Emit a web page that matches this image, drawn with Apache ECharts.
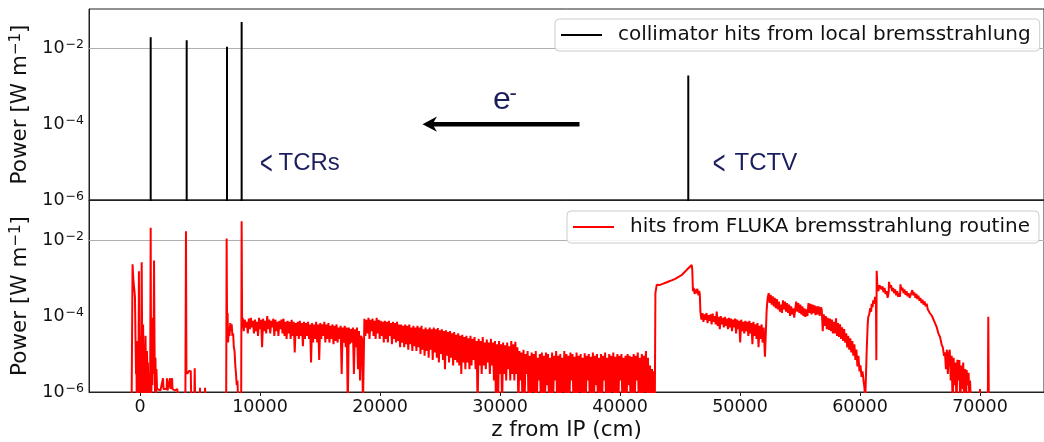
<!DOCTYPE html>
<html><head><meta charset="utf-8">
<script src="https://cdn.jsdelivr.net/npm/echarts@6/dist/echarts.min.js"></script>
<style>html,body{margin:0;padding:0;background:#fff}#c{width:1044px;height:442px}</style>
</head><body><div id="c"></div>
<script>
// ---------------- data ----------------
const seriesNames = ['collimator hits from local bremsstrahlung', 'hits from FLUKA bremsstrahlung routine'];
const xAxisTitle = 'z from IP (cm)';
const yTickExponents = [-6, -4, -2];
const yGridValues = [1e-2, 1e-4];
const floorValue = 4e-7; // below the axis floor (zero / no hits)

// collimator hits (z [cm], power [W/m])
const collimatorZ = [890, 3890, 7250, 8470, 45690];
const collimatorP = [0.019, 0.016, 0.0107, 0.048, 0.0019];

// FLUKA routine hits, segments of [z, P]
const redNearIP = [[-700,4e-7],[-620,2.3e-3],[-580,1.3e-3],[-540,8e-4],[-500,6e-4],[-460,4.5e-4],[-420,3.2e-4],[-390,6e-5],[-360,1.2e-5],[-330,3e-6],[-300,1.5e-5],[-270,4e-7],[-240,6e-6],[-200,2.2e-5],[-170,3e-6],[-140,4e-7],[-90,1.5e-3],[-60,4e-6],[-30,3e-5],[0,1e-6],[40,8e-6],[80,4e-7],[140,2.6e-3],[180,2e-5],[220,4e-7],[260,6e-5],[300,2e-6],[340,1.5e-5],[380,4e-7],[420,8e-6],[460,3e-5],[500,2e-6],[540,4e-7],[580,1.2e-5],[620,3e-6],[660,6e-6],[720,4e-7],[780,3e-6],[840,4e-7],[890,0.021],[930,4e-7],[980,5e-6],[1030,1.5e-6],[1080,9e-5],[1120,3e-6],[1170,2.9e-3],[1210,2e-5],[1250,1e-6],[1290,8e-6],[1330,4e-7],[1370,4e-6],[1420,1.2e-6],[1550,1.2e-6],[1700,1.1e-6],[1850,1.2e-6],[1920,2.3e-6],[1960,1.2e-6],[2100,1.1e-6],[2220,1.2e-6],[2250,2.3e-6],[2290,1.1e-6],[2450,1.2e-6],[2500,2.3e-6],[2540,1.2e-6],[2640,1.1e-6],[2670,2.3e-6],[2710,1.2e-6],[2900,1.1e-6],[3100,1.2e-6],[3250,1.1e-6],[3300,4e-7],[3780,4e-7],[3830,0.017],[3870,3.4e-6],[3950,3e-6],[4050,3.5e-6],[4150,3.2e-6],[4230,3.6e-6],[4280,4e-7],[4520,4e-7],[4560,4.2e-6],[4600,4e-7],[4960,4e-7],[5000,1.3e-6],[5040,4e-7],[5380,4e-7],[5420,1.3e-6],[5460,4e-7],[7180,4e-7],[7220,0.011],[7260,3e-5],[7300,1.2e-4],[7340,2e-5],[7400,5e-5],[7460,3e-5],[7520,6.5e-5],[7580,4e-5],[7640,6e-5],[7700,3e-5],[7760,3.5e-5],[7820,1.5e-5],[7880,1.2e-5],[7940,5e-6],[8000,3e-6],[8060,1.5e-6],[8120,2e-6],[8200,4e-7],[8430,4e-7],[8470,0.031],[8510,5e-5]];
const redBandA = [[8560,9e-5],[8645,4e-5],[8730,8e-5],[8815,5e-5],[8900,7e-5],[8985,3.5e-5],[9070,8.5e-5],[9155,4.5e-5],[9240,9e-5],[9325,5e-5],[9410,7.5e-5],[9495,3.5e-5],[9580,8e-5],[9665,4e-5],[9750,7e-5],[9835,3e-5],[9920,9e-5],[10005,4.5e-5],[10090,8e-5],[10175,1.5e-5],[10260,8.5e-5],[10345,4e-5],[10430,7.5e-5],[10515,3.5e-5],[10600,1e-4],[10685,4.5e-5],[10770,8e-5],[10855,3.5e-5],[10940,7.5e-5],[11025,5e-5],[11110,8.5e-5],[11195,3e-5],[11280,8e-5],[11365,4e-5],[11450,7e-5],[11535,3e-5],[11620,7.5e-5],[11705,4.5e-5],[11790,8e-5],[11875,3.5e-5],[11960,8.5e-5],[12045,3e-5],[12130,7e-5],[12215,2.5e-5],[12300,7.5e-5],[12385,3.5e-5],[12470,7e-5],[12555,2.5e-5],[12640,8e-5],[12725,3e-5],[12810,7e-5],[12895,1.1e-5],[12980,6.5e-5],[13065,3e-5],[13150,7e-5],[13235,2.5e-5],[13320,7.5e-5],[13405,3e-5],[13490,6.5e-5],[13575,1.6e-5],[13660,7e-5],[13745,2.5e-5],[13830,6.5e-5],[13915,3e-5],[14000,7e-5],[14085,2.5e-5],[14170,6e-5],[14255,6e-6],[14340,6.5e-5],[14425,2e-5],[14510,6e-5],[14595,2.5e-5],[14680,7e-5],[14765,2e-5],[14850,6e-5],[14935,7e-6],[15020,6.5e-5],[15105,2.5e-5],[15190,6e-5],[15275,3e-5],[15360,7e-5],[15445,2e-5],[15530,6e-5],[15615,2.5e-5],[15700,6.5e-5],[15785,2e-5],[15870,5.5e-5],[15955,2.5e-5],[16040,6e-5],[16125,1.8e-5],[16210,5.5e-5],[16295,2.2e-5],[16380,6e-5],[16465,2e-5],[16550,5e-5],[16635,2.5e-5],[16720,5.5e-5],[16805,3e-6],[16890,5e-5],[16975,2e-5],[17060,5.5e-5],[17145,1.5e-5],[17230,5e-5],[17315,4e-7],[17400,5e-5],[17485,1.8e-5],[17570,4.5e-5],[17655,2e-5],[17740,5e-5],[17825,3e-6],[17910,4.5e-5],[17995,1.5e-5],[18080,5e-5],[18165,4e-6],[18250,4e-5],[18335,2e-6],[18420,3e-5],[18505,2.5e-5],[18580,4e-7]];
const redBandB = [[18700,8.5e-5],[18785,3e-5],[18870,8e-5],[18955,3.5e-5],[19040,9e-5],[19125,2.5e-5],[19210,8e-5],[19295,4e-5],[19380,8.5e-5],[19465,3e-5],[19550,7.5e-5],[19635,2.5e-5],[19720,9e-5],[19805,3.5e-5],[19890,8e-5],[19975,2.5e-5],[20060,7.5e-5],[20145,3e-5],[20230,7e-5],[20315,2e-5],[20400,7.5e-5],[20485,2.5e-5],[20570,7e-5],[20655,2e-5],[20740,7.5e-5],[20825,3e-5],[20910,6.5e-5],[20995,1.8e-5],[21080,7e-5],[21165,2.5e-5],[21250,6.5e-5],[21335,2e-5],[21420,7e-5],[21505,2.2e-5],[21590,6e-5],[21675,1.5e-5],[21760,6e-5],[21845,2e-5],[21930,5.5e-5],[22015,1.5e-5],[22100,6e-5],[22185,1.8e-5],[22270,5.5e-5],[22355,1.3e-5],[22440,6e-5],[22525,1.8e-5],[22610,5e-5],[22695,1.2e-5],[22780,5.5e-5],[22865,1.6e-5],[22950,5e-5],[23035,1.2e-5],[23120,5.5e-5],[23205,1.5e-5],[23290,5e-5],[23375,1e-5],[23460,5.5e-5],[23545,1.3e-5],[23630,4.5e-5],[23715,9e-6],[23800,5e-5],[23885,1.2e-5],[23970,4.5e-5],[24055,8e-6],[24140,5e-5],[24225,1.3e-5],[24310,4.5e-5],[24395,7e-6],[24480,5e-5],[24565,1.1e-5],[24650,4.5e-5],[24735,8e-6],[24820,4.8e-5],[24905,6e-6],[24990,4.2e-5],[25075,1e-5],[25160,4.5e-5],[25245,7e-6],[25330,4e-5],[25415,4e-6],[25500,4.2e-5],[25585,9e-6],[25670,3.8e-5],[25755,6e-6],[25840,4e-5],[25925,8e-6],[26010,3.5e-5],[26095,5e-6],[26180,3.8e-5],[26265,7e-6],[26350,3.2e-5],[26435,6e-6],[26520,3.5e-5],[26605,5e-6],[26690,3e-5],[26775,3e-6],[26860,3.2e-5],[26945,6e-6],[27030,2.8e-5],[27115,4e-6],[27200,3e-5],[27285,6e-6],[27370,2.6e-5],[27455,4e-6],[27540,3e-5],[27625,5e-6],[27710,2.5e-5],[27795,7e-6],[27880,2.8e-5],[27965,4e-6],[28050,2.2e-5],[28135,4e-7],[28220,2.5e-5],[28305,5e-6],[28390,2.2e-5],[28475,3e-6],[28560,2.8e-5],[28645,5e-6],[28730,2e-5],[28815,4e-6],[28900,2.4e-5],[28985,6e-6],[29070,2e-5],[29155,3e-6],[29240,2.5e-5],[29325,5e-6],[29410,2e-5],[29495,2e-6],[29580,2.2e-5],[29665,4e-7],[29750,1.8e-5],[29835,4e-7],[29920,2.2e-5],[30005,3e-6],[30090,1.8e-5],[30175,4e-7],[30260,2e-5],[30345,3e-6],[30430,1.7e-5],[30515,2e-6],[30600,2e-5],[30685,4e-6],[30770,1.6e-5],[30855,2e-6],[30940,2.2e-5],[31025,3e-6],[31110,1.8e-5],[31195,2e-6],[31280,2.1e-5],[31365,3e-6],[31450,1.5e-5]];
const redBandC = [[31535,4e-7],[31620,1.2e-5],[31705,2e-6],[31790,1.1e-5],[31875,4e-7],[31960,1.3e-5],[32045,4e-7],[32130,1e-5],[32215,3e-6],[32300,1.2e-5],[32385,4e-7],[32470,9e-6],[32555,4e-7],[32640,1.1e-5],[32725,1e-6],[32810,1e-5],[32895,4e-7],[32980,1.2e-5],[33065,4e-7],[33150,8e-6],[33235,2e-6],[33320,1e-5],[33405,4e-7],[33490,1.1e-5],[33575,4e-7],[33660,9e-6],[33745,4e-7],[33830,1.1e-5],[33915,1.5e-6],[34000,1e-5],[34085,4e-7],[34170,8e-6],[34255,4e-7],[34340,1.1e-5],[34425,4e-7],[34510,9e-6],[34595,2e-6],[34680,1.2e-5],[34765,4e-7],[34850,9e-6],[34935,4e-7],[35020,1e-5],[35105,4e-7],[35190,8e-6],[35275,1e-6],[35360,1.2e-5],[35445,4e-7],[35530,1e-5],[35615,4e-7],[35700,9e-6],[35785,4e-7],[35870,1.1e-5],[35955,2e-6],[36040,1e-5],[36125,4e-7],[36210,8.5e-6],[36295,4e-7],[36380,1.1e-5],[36465,4e-7],[36550,9e-6],[36635,1e-6],[36720,1e-5],[36805,4e-7],[36890,8e-6],[36975,4e-7],[37060,1.05e-5],[37145,4e-7],[37230,9e-6],[37315,2e-6],[37400,1e-5],[37485,4e-7],[37570,8.5e-6],[37655,4e-7],[37740,1.1e-5],[37825,4e-7],[37910,9e-6],[37995,1.5e-6],[38080,1e-5],[38165,4e-7],[38250,8e-6],[38335,4e-7],[38420,1e-5],[38505,4e-7],[38590,9e-6],[38675,2e-6],[38760,1.1e-5],[38845,4e-7],[38930,8e-6],[39015,4e-7],[39100,1e-5],[39185,4e-7],[39270,9e-6],[39355,1e-6],[39440,1.1e-5],[39525,4e-7],[39610,8.5e-6],[39695,4e-7],[39780,1e-5],[39865,4e-7],[39950,9e-6],[40035,2e-6],[40120,1e-5],[40205,4e-7],[40290,8e-6],[40375,4e-7],[40460,9e-6],[40545,4e-7],[40630,1e-5],[40715,1.5e-6],[40800,9e-6],[40885,4e-7],[40970,8.5e-6],[41055,4e-7],[41140,1e-5],[41225,4e-7],[41310,9e-6],[41395,2e-6],[41480,1.1e-5],[41565,4e-7],[41650,8e-6],[41735,4e-7],[41820,1e-5],[41905,4e-7],[41990,9e-6],[42075,1e-6],[42160,1.2e-5],[42245,4e-7],[42330,8e-6],[42415,4e-7],[42500,5e-6],[42585,4e-7],[42670,4e-6],[42755,4e-7],[42840,3.5e-6],[42900,4e-7]];
const redRiseD = [[42950,4e-4],[43060,6.6e-4],[43300,6.5e-4],[43550,7e-4],[43800,7.5e-4],[43890,7.9e-4],[44100,8.2e-4],[44350,8.8e-4],[44600,9.5e-4],[44720,9.8e-4],[44950,1.1e-3],[45150,1.2e-3],[45280,1.3e-3],[45450,1.5e-3],[45690,1.8e-3],[45850,2e-3],[45970,2.2e-3],[46020,1.7e-3],[46080,4.5e-4],[46150,5.5e-4],[46220,3.8e-4],[46300,5e-4],[46380,4e-4],[46450,5.2e-4],[46530,3.5e-4],[46600,4.6e-4],[46650,3.8e-4],[46700,1.3e-4]];
const redBandE = [[46785,8e-5],[46870,1.2e-4],[46955,7e-5],[47040,1.1e-4],[47125,8e-5],[47210,1.2e-4],[47295,6.5e-5],[47380,1.05e-4],[47465,7.5e-5],[47550,1.1e-4],[47635,6e-5],[47720,1.15e-4],[47805,7e-5],[47890,1e-4],[47975,6e-5],[48060,1.3e-4],[48145,5.5e-5],[48230,9.5e-5],[48315,4.5e-5],[48400,1e-4],[48485,6e-5],[48570,9e-5],[48655,5e-5],[48740,9.5e-5],[48825,5.5e-5],[48910,8.5e-5],[48995,4.5e-5],[49080,9e-5],[49165,5e-5],[49250,8.5e-5],[49335,4e-5],[49420,8e-5],[49505,5e-5],[49590,8.5e-5],[49675,3.5e-5],[49760,8e-5],[49845,4.5e-5],[49930,7.5e-5],[50015,2e-5],[50100,8e-5],[50185,4e-5],[50270,7e-5],[50355,3.5e-5],[50440,7.5e-5],[50525,4e-5],[50610,7e-5],[50695,3e-5],[50780,7.5e-5],[50865,3.5e-5],[50950,6.5e-5],[51035,1.8e-5],[51120,7e-5],[51205,3e-5],[51290,6e-5],[51375,2.5e-5],[51460,6.5e-5],[51545,1.5e-5],[51630,5.5e-5],[51715,2.5e-5],[51800,6e-5],[51885,2e-5],[51970,5e-5],[52080,8.5e-6]];
const redSawF = [[52220,1.4e-4],[52305,3e-4],[52390,4e-4],[52475,2.2e-4],[52560,3.6e-4],[52645,2e-4],[52730,3.3e-4],[52815,1.8e-4],[52900,3e-4],[52985,1.6e-4],[53070,2.8e-4],[53155,1.5e-4],[53240,2.4e-4],[53325,1.3e-4],[53410,2e-4],[53495,1.2e-4],[53580,2.6e-4],[53665,1.5e-4],[53750,2.4e-4],[53835,1.3e-4],[53920,2.2e-4],[54005,1.2e-4],[54090,2e-4],[54175,1e-4],[54260,1.8e-4],[54345,1.1e-4],[54430,1.6e-4],[54515,9e-5],[54600,1.5e-4],[54685,2.4e-4],[54770,1.3e-4],[54855,2.2e-4],[54940,1.2e-4],[55025,2e-4],[55110,1.1e-4],[55195,1.8e-4],[55280,1e-4],[55365,1.6e-4],[55450,9.5e-5],[55535,1.5e-4],[55620,1e-4],[55705,2.2e-4],[55790,1.2e-4],[55875,2.1e-4],[55960,1.1e-4],[56045,2e-4],[56130,1.2e-4],[56215,1.9e-4],[56300,1.05e-4],[56385,1.8e-4],[56470,1.1e-4],[56555,1.8e-4],[56640,1e-4],[56725,1.7e-4],[56810,1.5e-4],[56895,4e-5],[56980,1.1e-4]];
const redTailG = [[57065,5.5e-5],[57150,1e-4],[57235,4.5e-5],[57320,9e-5],[57405,4.3e-5],[57490,8.5e-5],[57575,4e-5],[57660,8e-5],[57745,3.5e-5],[57830,7e-5],[57915,3.5e-5],[58000,8.7e-5],[58085,3e-5],[58170,6.5e-5],[58255,2.8e-5],[58340,6e-5],[58425,2.5e-5],[58510,5e-5],[58595,2.2e-5],[58680,4.5e-5],[58765,2e-5],[58850,3.5e-5],[58935,1.5e-5],[59020,3e-5],[59105,1.3e-5],[59190,2.6e-5],[59275,1.1e-5],[59360,2.2e-5],[59445,9e-6],[59530,1.8e-5],[59615,7e-6],[59700,1.3e-5],[59785,4.7e-6],[59870,9e-6],[59955,3.5e-6],[60040,5e-6],[60125,2.5e-6],[60210,3.5e-6],[60295,2e-6],[60380,1.2e-6],[60420,4e-7],[60480,4e-7],[60560,1.3e-5],[60640,6e-5],[60690,9.5e-5],[60770,1.1e-4],[60850,1.6e-4],[60930,1.3e-4],[60970,2.1e-4],[61050,1.7e-4],[61100,2.6e-4],[61180,2.1e-4],[61250,3.2e-4],[61330,2.8e-4],[61360,6.9e-6],[61390,1.55e-3],[61450,6e-4],[61535,4.5e-4],[61620,6.5e-4],[61705,7.2e-4],[61790,5e-4],[61875,6e-4],[61960,4.2e-4],[62045,5.5e-4],[62130,3.8e-4],[62215,4.5e-4],[62300,3e-4],[62385,4e-4],[62420,7.9e-4],[62505,5.5e-4],[62590,6.5e-4],[62675,4.5e-4],[62760,5.5e-4],[62845,4e-4],[62930,5e-4],[63015,3.5e-4],[63100,4.5e-4],[63185,3.2e-4],[63270,4e-4],[63335,3.2e-4],[63370,6.8e-4],[63455,4.8e-4],[63540,5.6e-4],[63625,4e-4],[63710,5e-4],[63795,3.6e-4],[63880,4.5e-4],[63965,3.3e-4],[64050,4e-4],[64135,3e-4],[64220,3.6e-4],[64305,3.2e-4],[64360,4.8e-4],[64445,3.5e-4],[64530,4.2e-4],[64615,3e-4],[64700,3.8e-4],[64785,2.8e-4],[64870,3.4e-4],[64955,2.5e-4],[65040,3e-4],[65125,2.2e-4],[65210,2.7e-4],[65295,2e-4],[65380,2.4e-4],[65465,1.8e-4],[65560,2.1e-4],[65645,1.5e-4],[65730,1.6e-4],[65815,1.2e-4],[65900,1.3e-4],[66000,1e-4],[66110,9.5e-5],[66250,6.5e-5],[66400,5e-5],[66530,3.5e-5],[66670,2.8e-5],[66800,1.8e-5],[66900,1.5e-5],[67000,9e-6],[67080,1.1e-5],[67160,4e-6],[67240,1.3e-5],[67320,3e-6],[67400,1e-5],[67480,1.3e-5],[67560,2e-6],[67640,9e-6],[67720,4e-7],[67800,8e-6],[67880,1.5e-6],[67960,6e-6],[68040,4e-7],[68120,7e-6],[68200,2e-6],[68280,6.9e-6],[68360,4e-7],[68440,5e-6],[68520,1.2e-6],[68600,6e-6],[68680,4e-7],[68760,4e-6],[68840,4e-7],[68890,3.8e-6],[68970,1.5e-6],[69050,3.2e-6],[69130,4e-7],[69170,2e-6],[69250,4e-7],[69950,4e-7],[70000,1.2e-6],[70050,4e-7],[70650,4e-7],[70690,9.5e-5],[70740,4e-7]];

// ------------- build series data -------------
const collimatorData = [];
collimatorZ.forEach((z, i) => { collimatorData.push([z, floorValue], [z, collimatorP[i]], [z, floorValue]); });
const flukaData = [].concat(redNearIP, redBandA, redBandB, redBandC, redRiseD, redBandE, redSawF, redTailG);

function logLabel(v) {
  const e = Math.log10(v), r = Math.round(e);
  if (Math.abs(e - r) > 1e-6 || yTickExponents.indexOf(r) < 0) return '';
  return '{b|10}{s|' + String(r).replace('-', '\u2212') + '}';
}

const FONT = '"DejaVu Sans", sans-serif';
const NAVY = '#1b1e5c';
const gridLineMark = {
  silent: true, z: 1, symbol: ['none', 'none'], label: { show: false },
  lineStyle: { color: '#b0b0b0', width: 1, type: 'solid' },
  emphasis: { disabled: true },
  data: yGridValues.map(v => ({ yAxis: v }))
};

function yAxisDef(gi, max) {
  return {
    type: 'log', logBase: 10, gridIndex: gi, min: 1e-6, max: max,
    axisLine: { show: true, onZero: false, lineStyle: { color: '#222', width: 1 } },
    axisTick: { show: false }, splitLine: { show: false }, minorTick: { show: false },
    axisLabel: {
      formatter: logLabel, margin: 5, color: '#111', showMaxLabel: false,
      rich: { b: { fontSize: 17.5, fontFamily: FONT, color: '#111' },
              s: { fontSize: 12.5, fontFamily: FONT, color: '#111', verticalAlign: 'top', padding: [0, 0, 6, 1] } }
    },
    name: '{a|Power [W m}{s|\u22121}{a|]}', nameLocation: 'middle', nameGap: 49, nameRotate: 90,
    nameTextStyle: { rich: { a: { fontSize: 21.5, fontFamily: FONT, color: '#111' },
                             s: { fontSize: 15, fontFamily: FONT, color: '#111', verticalAlign: 'top', padding: [0, 0, 8, 0] } } }
  };
}
function xAxisDef(gi, showLabels) {
  return {
    type: 'value', gridIndex: gi, min: -4250, max: 75333, splitNumber: 8,
    axisLine: { show: true, onZero: false, lineStyle: { color: '#222', width: 1 } },
    axisTick: { show: showLabels, length: 4, lineStyle: { color: '#222' } },
    splitLine: { show: false },
    axisLabel: { show: showLabels, showMinLabel: false, showMaxLabel: false, fontSize: 17.5, fontFamily: FONT, color: '#111', margin: 6,
                 formatter: v => String(v) },
    name: showLabels ? xAxisTitle : '', nameLocation: 'middle', nameGap: 27,
    nameTextStyle: { fontSize: 21.5, fontFamily: FONT, color: '#111' }
  };
}
function legendDef(name, left, top) {
  return {
    data: [{ name: name, icon: 'rect' }], left: left, top: top, orient: 'horizontal',
    padding: [6, 9, 6, 6], itemWidth: 41, itemHeight: 2,
    backgroundColor: 'rgba(255,255,255,0.85)', borderColor: '#cccccc', borderWidth: 1, borderRadius: 4,
    textStyle: { fontSize: 20, fontFamily: FONT, color: '#111', padding: [0, 0, 0, 11] },
    selectedMode: false
  };
}

const chart = echarts.init(document.getElementById('c'), null, { renderer: 'canvas' });
chart.setOption({
  animation: false,
  backgroundColor: '#fff',
  grid: [
    { left: 89, right: -5, top: 9, height: 191, show: true, borderColor: '#222', borderWidth: 1, backgroundColor: 'transparent' },
    { left: 89, right: -5, top: 200, height: 192, show: true, borderColor: '#222', borderWidth: 1, backgroundColor: 'transparent' }
  ],
  xAxis: [xAxisDef(0, false), xAxisDef(1, true)],
  yAxis: [yAxisDef(0, 0.106), yAxisDef(1, 0.113)],
  legend: [legendDef(seriesNames[0], 555, 19), legendDef(seriesNames[1], 567, 211)],
  series: [
    { name: seriesNames[0], type: 'line', xAxisIndex: 0, yAxisIndex: 0, data: collimatorData,
      symbol: 'none', showSymbol: false, clip: true, z: 3,
      lineStyle: { color: '#000', width: 2 }, itemStyle: { color: '#000' }, markLine: gridLineMark },
    { name: seriesNames[1], type: 'line', xAxisIndex: 1, yAxisIndex: 1, data: flukaData,
      symbol: 'none', showSymbol: false, clip: true, z: 3,
      lineStyle: { color: '#ff0000', width: 2 }, itemStyle: { color: '#ff0000' }, markLine: gridLineMark }
  ],
  graphic: [
    { type: 'rect', shape: { x: 431, y: 121.9, width: 148.5, height: 4.5 }, style: { fill: '#000' } },
    { type: 'polygon', shape: { points: [[422.5, 124.2], [437, 116.6], [432.5, 124.2], [437, 131.8]] }, style: { fill: '#000' } },
    { type: 'text', x: 493, y: 100, style: { text: 'e', font: '32px "Liberation Sans"', fill: NAVY, textAlign: 'left', align: 'left', textVerticalAlign: 'middle', verticalAlign: 'middle' } },
    { type: 'text', x: 509.5, y: 93.5, style: { text: '-', font: '22px "Liberation Sans"', fill: NAVY, textAlign: 'left', align: 'left', textVerticalAlign: 'middle', verticalAlign: 'middle' } },
    { type: 'text', x: 266.4, y: 164.5, scaleX: 0.66, style: { text: '<', font: '33px "Liberation Sans"', fill: NAVY, textAlign: 'center', align: 'center', textVerticalAlign: 'middle', verticalAlign: 'middle' } },
    { type: 'text', x: 278.5, y: 163.4, style: { text: 'TCRs', font: '24px "Liberation Sans"', fill: NAVY, textAlign: 'left', align: 'left', textVerticalAlign: 'middle', verticalAlign: 'middle' } },
    { type: 'text', x: 719.2, y: 164.8, scaleX: 0.66, style: { text: '<', font: '33px "Liberation Sans"', fill: NAVY, textAlign: 'center', align: 'center', textVerticalAlign: 'middle', verticalAlign: 'middle' } },
    { type: 'text', x: 734.5, y: 163.4, style: { text: 'TCTV', font: '24px "Liberation Sans"', fill: NAVY, textAlign: 'left', align: 'left', textVerticalAlign: 'middle', verticalAlign: 'middle' } }
  ]
});
</script>
</body></html>
